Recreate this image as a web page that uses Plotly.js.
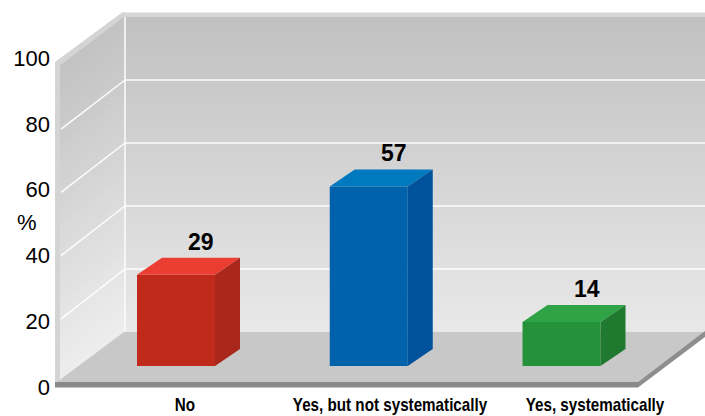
<!DOCTYPE html>
<html>
<head>
<meta charset="utf-8">
<script src="https://cdn.plot.ly/plotly-3.0.1.min.js"></script>
<style>html,body{margin:0;padding:0;background:#fff;}#chart{width:705px;height:416px;}</style>
</head>
<body>
<div id="chart"></div>
<script>
// ---- data ----
const categories = ['No', 'Yes, but not systematically', 'Yes, systematically'];
const values = [29, 57, 14];
const yTickVals = [0, 20, 40, 60, 80, 100];
const yTickText = ['0', '20', '40', '60', '80', '100'];
const frontColors = ['#BF2A1B', '#0062AA', '#25913B'];
const topColors = ['#EB3D32', '#0079BF', '#2FA446'];
const sideColors = ['#A9271B', '#00529B', '#1F7A2F'];

// ---- geometry / style ----
const W = 705, H = 416;
const M = {l: 0, r: 0, t: 10, b: 28};
const plotTop = M.t, plotBot = H - M.b;
const pxPerUnitY = 3.15, zeroPy = 366;
const pxPerCat = 192.75, cat0Px = 176;
const xRange = [(0 - cat0Px) / pxPerCat, (W - cat0Px) / pxPerCat];
const yRange = [(zeroPy - plotBot) / pxPerUnitY, (zeroPy - plotTop) / pxPerUnitY];
const ddx = 25 / pxPerCat, ddy = 17 / pxPerUnitY;
const barW = 78 / pxPerCat;
// front tick plane
const fz = 387, fs = (387 - 58) / 100;
const y2Range = [(fz - plotBot) / fs, (fz - plotTop) / fs];
// category label axis
const lab0 = 185, labStep = 205;
const x2Range = [-lab0 / labStep, (W - lab0) / labStep];
const labelSqueeze = 0.8;

const PX = p => p / W;
const PY = p => (plotBot - p) / (plotBot - plotTop);
const pathOf = pts => 'M ' + pts.map(p => PX(p[0]).toFixed(5) + ',' + PY(p[1]).toFixed(5)).join(' L ') + ' Z';
const gray = g => { const v = Math.round(g); return 'rgb(' + v + ',' + v + ',' + v + ')'; };

const shapes = [];
const N = 40;
// back wall gradient
const bwBot = 332, bwTop = 17, bwL = 124;
for (let k = 0; k < N; k++) {
  const t0 = k / N, t1 = (k + 1) / N;
  const yA = bwBot - (bwBot - bwTop) * t0 + 0.6;
  const yB = bwBot - (bwBot - bwTop) * t1 - 0.6;
  shapes.push({type: 'path', xref: 'paper', yref: 'paper', layer: 'below',
    path: pathOf([[bwL, yA], [W, yA], [W, yB], [bwL, yB]]),
    fillcolor: gray(233 - 41 * (t0 + t1) / 2), line: {width: 0}});
}
// back wall top strip
shapes.push({type: 'path', xref: 'paper', yref: 'paper', layer: 'below',
  path: pathOf([[122, 12.5], [W, 12.5], [W, 17], [124, 17]]), fillcolor: '#D6D6D6', line: {width: 0}});
// left wall border
shapes.push({type: 'path', xref: 'paper', yref: 'paper', layer: 'below',
  path: pathOf([[55, 387], [55, 62], [122, 12.5], [125, 12.5], [125, 332], [60, 382]]), fillcolor: '#D4D4D4', line: {width: 0}});
// left wall inner gradient
const lf = {x: 60, b: 382, t: 66}, lb = {x: 124.5, b: 332, t: 17};
for (let k = 0; k < N; k++) {
  const t0 = k / N, t1 = (k + 1) / N;
  const fA = lf.b + (lf.t - lf.b) * t0 + 0.6, fB = lf.b + (lf.t - lf.b) * t1 - 0.6;
  const bA = lb.b + (lb.t - lb.b) * t0 + 0.6, bB = lb.b + (lb.t - lb.b) * t1 - 0.6;
  shapes.push({type: 'path', xref: 'paper', yref: 'paper', layer: 'below',
    path: pathOf([[lf.x, fA], [lb.x, bA], [lb.x, bB], [lf.x, fB]]),
    fillcolor: gray(238 - 44 * (t0 + t1) / 2), line: {width: 0}});
}
// white grid lines
const gridLine = {color: 'rgba(255,255,255,0.95)', width: 1.5};
yTickVals.slice(1, -1).forEach(v => {
  const t = v / 100;
  const yb = lb.b + (lb.t - lb.b) * t;
  const yf = lf.b + (lf.t - lf.b) * t;
  shapes.push({type: 'line', xref: 'paper', yref: 'paper', layer: 'below',
    x0: PX(bwL + 1), x1: PX(W), y0: PY(yb), y1: PY(yb), line: gridLine});
  shapes.push({type: 'line', xref: 'paper', yref: 'paper', layer: 'below',
    x0: PX(lf.x + 1), x1: PX(bwL + 1), y0: PY(yf), y1: PY(yb), line: gridLine});
});
shapes.push({type: 'line', xref: 'paper', yref: 'paper', layer: 'below',
  x0: PX(125), x1: PX(125), y0: PY(17), y1: PY(332), line: gridLine});
// floor
shapes.push({type: 'path', xref: 'paper', yref: 'paper', layer: 'below',
  path: pathOf([[57, 382], [124, 332], [W, 332], [638, 382]]), fillcolor: '#C8C8C8', line: {width: 0}});
shapes.push({type: 'path', xref: 'paper', yref: 'paper', layer: 'below',
  path: pathOf([[55, 382], [638, 382], [638, 387.5], [55, 387.5]]), fillcolor: '#8A8A8A', line: {width: 0}});
shapes.push({type: 'path', xref: 'paper', yref: 'paper', layer: 'below',
  path: pathOf([[638, 382], [W, 331], [W, 337], [638, 387.5]]), fillcolor: '#8E8E8E', line: {width: 0}});

// ---- traces ----
const idx = categories.map((c, i) => i);
const traces = [];
traces.push({type: 'bar', x: idx, y: values, width: barW,
  marker: {color: frontColors, line: {width: 0}}, hoverinfo: 'skip'});
values.forEach((v, i) => {
  const xl = i - barW / 2, xr = i + barW / 2;
  traces.push({type: 'scatter', mode: 'lines', fill: 'toself', hoverinfo: 'skip',
    x: [xl, xr, xr + ddx, xl + ddx, xl], y: [v, v, v + ddy, v + ddy, v],
    fillcolor: topColors[i], line: {width: 0, color: topColors[i]}});
  traces.push({type: 'scatter', mode: 'lines', fill: 'toself', hoverinfo: 'skip',
    x: [xr, xr, xr + ddx, xr + ddx, xr], y: [0, v, v + ddy, ddy, 0],
    fillcolor: sideColors[i], line: {width: 0, color: sideColors[i]}});
});
// dummy traces so the label axes are drawn
traces.push({type: 'scatter', x: [], y: [], xaxis: 'x2', yaxis: 'y', hoverinfo: 'skip'});
traces.push({type: 'scatter', x: [], y: [], xaxis: 'x', yaxis: 'y2', hoverinfo: 'skip'});

const annotations = values.map((v, i) => ({
  x: i + ddx, y: v + ddy, xref: 'x', yref: 'y', text: String(v), showarrow: false,
  yshift: 16, xanchor: 'center', yanchor: 'middle',
  font: {family: 'Liberation Sans, Arial, sans-serif', size: 23, color: '#000', weight: 700}
}));
annotations.push({x: PX(27), y: PY(222), xref: 'paper', yref: 'paper', text: '%', showarrow: false,
  xanchor: 'center', yanchor: 'middle', font: {family: 'Liberation Sans, Arial, sans-serif', size: 22, color: '#000'}});

const layout = {
  width: W, height: H, margin: M,
  paper_bgcolor: '#FFFFFF', plot_bgcolor: 'rgba(0,0,0,0)',
  showlegend: false, hovermode: false,
  xaxis: {range: xRange, visible: false, fixedrange: true},
  yaxis: {range: yRange, visible: false, fixedrange: true},
  xaxis2: {overlaying: 'x', anchor: 'y', side: 'bottom', range: x2Range,
    tickvals: idx, ticktext: categories, showgrid: false, zeroline: false, showline: false,
    ticks: '', ticklabelstandoff: 3, tickangle: 0,
    tickfont: {family: 'Liberation Sans, Arial, sans-serif', size: 19, color: '#000', weight: 700}},
  yaxis2: {overlaying: 'y', anchor: 'free', position: PX(55), side: 'left', range: y2Range,
    tickvals: yTickVals, ticktext: yTickText, showgrid: false, zeroline: false, showline: false,
    ticks: '', ticklabelstandoff: 5,
    tickfont: {family: 'Liberation Sans, Arial, sans-serif', size: 22, color: '#000'}},
  shapes: shapes,
  annotations: annotations
};

Plotly.newPlot('chart', traces, layout, {staticPlot: true, displayModeBar: false}).then(gd => {
  // condense the category labels (narrow bold face in the original)
  gd.querySelectorAll('.x2tick text').forEach(t => {
    const L = t.getComputedTextLength();
    t.setAttribute('textLength', (L * labelSqueeze).toFixed(1));
    t.setAttribute('lengthAdjust', 'spacingAndGlyphs');
  });
});
</script>
</body>
</html>
